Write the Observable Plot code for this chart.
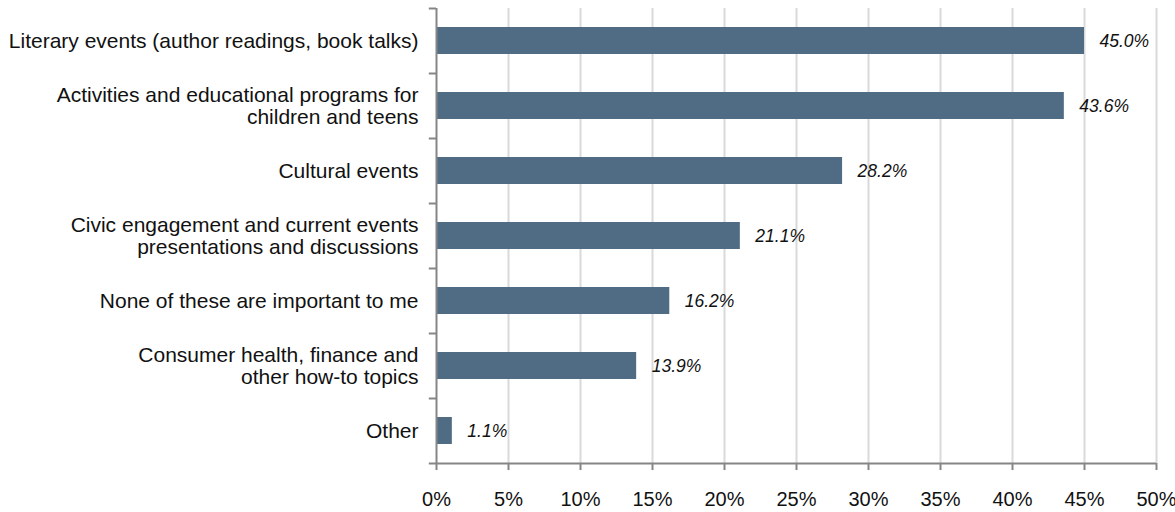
<!DOCTYPE html>
<html><head><meta charset="utf-8">
<script src="https://cdn.jsdelivr.net/npm/d3@7"></script>
<script src="https://cdn.jsdelivr.net/npm/@observablehq/plot@0.6"></script>
<style>body{margin:0;background:#fff;font-family:"Liberation Sans",Arial,sans-serif}</style>
</head><body><div id="chart"></div>
<script>
const categories = [
  "Literary events (author readings, book talks)",
  "Activities and educational programs for\nchildren and teens",
  "Cultural events",
  "Civic engagement and current events\npresentations and discussions",
  "None of these are important to me",
  "Consumer health, finance and\nother how-to topics",
  "Other"
];
const values = [45.0, 43.6, 28.2, 21.1, 16.2, 13.9, 1.1];
const xTicks = [0, 5, 10, 15, 20, 25, 30, 35, 40, 45, 50];

const data = categories.map((c, i) => ({category: c, value: values[i]}));
const W = 1175, H = 512, mL = 436, mR = 19, mT = 8, mB = 49;
const band = (H - mT - mB) / categories.length;
const axisGray = "#868686";

const chart = Plot.plot({
  width: W, height: H,
  marginLeft: mL, marginRight: mR, marginTop: mT, marginBottom: mB,
  style: {fontFamily: '"Liberation Sans", Arial, sans-serif', fontSize: "20px", color: "#000", background: "#fff", overflow: "visible"},
  x: {domain: [0, 50], ticks: xTicks},
  y: {domain: categories, padding: 0, axis: null},
  marks: [
    Plot.ruleX(xTicks.filter(d => d > 0), {stroke: "#d9d9d9", strokeWidth: 2}),
    Plot.barX(data, {x: "value", y: "category", fill: "#506b84", insetTop: 19, insetBottom: 19}),
    Plot.text(data, {x: "value", y: "category", text: d => d.value.toFixed(1) + "%", dx: 15, textAnchor: "start", fontStyle: "italic", fontSize: 17.5, fill: "#111"}),
    Plot.text(data, {x: 0, y: "category", text: "category", dx: -18, textAnchor: "end", fontSize: 21, lineHeight: 1.02, fill: "#111"}),
    Plot.ruleY(categories, {y: d => d, x1: -0.5, x2: 0, dy: -band / 2, stroke: axisGray, strokeWidth: 2}),
    Plot.ruleY([categories[categories.length - 1]], {y: d => d, x1: -0.5, x2: 50, dy: band / 2, stroke: axisGray, strokeWidth: 2}),
    Plot.ruleX([0], {stroke: axisGray, strokeWidth: 2}),
    Plot.axisX({ticks: xTicks, tickFormat: d => d + "%", tickSize: 7, tickPadding: 21, stroke: axisGray, strokeWidth: 2, label: null, fontSize: 20, fill: "#111"})
  ]
});
document.getElementById("chart").appendChild(chart);
</script>
</body></html>
